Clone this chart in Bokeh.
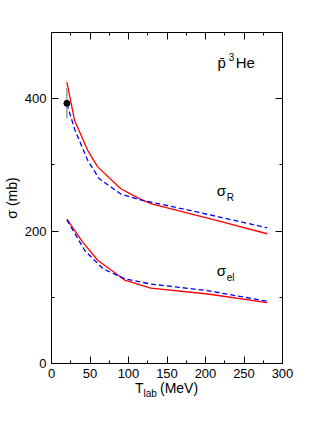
from bokeh.plotting import figure
from bokeh.models import LinearAxis, Range1d, Label, FixedTicker, Div
from bokeh.layouts import column
from bokeh.embed import file_html
from bokeh.resources import INLINE

# sigma_R (reaction cross section)
T_R_red = [20, 30, 47, 60, 90, 116, 130, 181, 224, 280]
sR_red = [425, 367, 322, 297, 264, 248, 241, 226, 213, 196]
T_R_blue = [20, 30, 47, 62, 90, 116, 181, 280]
sR_blue = [392, 354, 307, 279, 256, 247, 231, 205]

# sigma_el (elastic cross section)
T_el_red = [20, 40, 60, 95, 129, 203, 280]
sel_red = [218, 184, 156, 126, 114, 105, 92]
T_el_blue = [20, 43, 67, 95, 129, 203, 280]
sel_blue = [217, 171, 143, 128, 120, 110, 94]

# experimental point
obs_T = [20]
obs_s = [393]
obs_err = [23]

x_ticks = [0, 50, 100, 150, 200, 250, 300]
x_minor = [0, 25, 50, 75, 100, 125, 150, 175, 200, 225, 250, 275, 300]
y_ticks = [0, 200, 400]
y_minor = [0, 100, 200, 300, 400, 500]

FONT = "Liberation Sans"

p = figure(width=316, height=414, x_range=Range1d(0, 300), y_range=Range1d(0, 500),
           output_backend="svg", toolbar_location=None,
           min_border_left=50, min_border_right=34, min_border_top=32, min_border_bottom=51)
p.grid.visible = False
p.outline_line_color = "black"
p.background_fill_color = "white"
p.border_fill_color = "white"

def style(ax, ticks, minor, show_labels=True):
    ax.ticker = FixedTicker(ticks=ticks, minor_ticks=minor)
    ax.major_tick_in = 7
    ax.major_tick_out = 0
    ax.minor_tick_in = 3
    ax.minor_tick_out = 0
    ax.axis_line_color = "black"
    ax.major_tick_line_color = "black"
    ax.minor_tick_line_color = "black"
    ax.major_label_text_font = FONT
    ax.major_label_text_font_size = "13px"
    ax.major_label_text_color = "black"
    ax.major_label_standoff = 5
    if not show_labels:
        ax.major_label_text_color = None
        ax.major_label_text_font_size = "1px"

style(p.xaxis[0], x_ticks, x_minor)
style(p.yaxis[0], y_ticks, y_minor)
p.yaxis[0].axis_label = "σ (mb)"
p.yaxis[0].axis_label_text_font = FONT
p.yaxis[0].axis_label_text_font_size = "14px"
p.yaxis[0].axis_label_text_font_style = "normal"
p.yaxis[0].axis_label_text_color = "black"
p.yaxis[0].axis_label_standoff = 2

top = LinearAxis()
style(top, x_ticks, x_minor, False)
p.add_layout(top, "above")
right = LinearAxis()
style(right, y_ticks, y_minor, False)
p.add_layout(right, "right")

p.line(T_R_red, sR_red, line_color="#ff0000", line_width=1.3)
p.line(T_R_blue, sR_blue, line_color="#0000ff", line_width=1.3, line_dash="5 3")
p.line(T_el_red, sel_red, line_color="#ff0000", line_width=1.3)
p.line(T_el_blue, sel_blue, line_color="#0000ff", line_width=1.3, line_dash="5 3")

lo = [s - e for s, e in zip(obs_s, obs_err)]
hi = [s + e for s, e in zip(obs_s, obs_err)]
p.segment(x0=obs_T, y0=lo, x1=obs_T, y1=hi, line_color="#999999", line_width=1.5)
p.scatter(obs_T, obs_s, size=6, color="black")

def lab(x, y, text, size):
    p.add_layout(Label(x=x, y=y, text=text, text_font=FONT, text_font_size=size,
                       text_color="black", text_align="left", text_baseline="alphabetic",
                       level="overlay"))

# plot title
lab(215.6, 454.7, "p\u0304", "15px")
lab(230.2, 462.8, "3", "10px")
lab(239.2, 454.7, "He", "15px")

# curve labels
lab(214.7, 261.3, "σ", "15px")
lab(227.6, 250.8, "R", "10px")
lab(214.7, 140.5, "σ", "15px")
lab(227.6, 129.9, "el", "10px")

# x axis title (outside the frame, as HTML text)
span = "position:absolute;white-space:nowrap;font-family:'Liberation Sans';color:black;line-height:1;"
xtitle = Div(
    text=(f'<div style="position:relative;height:1px;">'
          f'<span style="{span}left:135px;top:-44px;font-size:14px;">T</span>'
          f'<span style="{span}left:143.5px;top:-36.5px;font-size:10px;">lab</span>'
          f'<span style="{span}left:160px;top:-44px;font-size:14px;">(MeV)</span>'
          f'</div>'),
    width=316, height=1, margin=(0, 0, 0, 0), styles={"overflow": "visible"})

layout = column(p, xtitle, spacing=0)
open("out.html", "w").write(file_html(layout, INLINE))
